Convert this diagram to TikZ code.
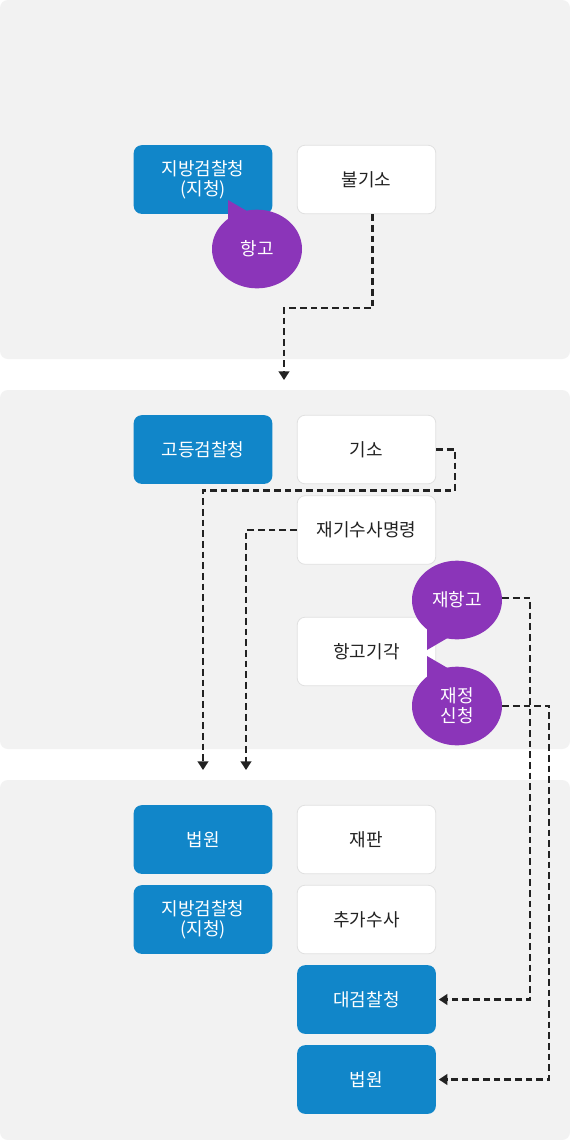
\documentclass[tikz,border=0pt]{standalone}
\usepackage{fontspec}
\setmainfont{Noto Sans CJK KR}
\usetikzlibrary{arrows.meta,shapes.geometric}
\definecolor{panel}{HTML}{F2F2F2}
\definecolor{blu}{HTML}{1186C9}
\definecolor{pur}{HTML}{8B35B9}
\definecolor{bord}{HTML}{E0E0E0}
\definecolor{ink}{HTML}{222222}
\begin{document}
\begin{tikzpicture}[x=0.75pt,y=-0.75pt,
  box/.style={rounded corners=6pt, minimum width=104pt, minimum height=51.5pt, inner sep=0pt, align=center, font=\fontsize{13.5}{15}\selectfont},
  bluebox/.style={box, fill=blu, text=white},
  whitebox/.style={box, fill=white, draw=bord, line width=0.6pt, text=ink},
  bubble/.style={ellipse, fill=pur, text=white, minimum width=67.5pt, minimum height=59pt, inner sep=0pt, align=center, font=\fontsize{13.5}{15}\selectfont},
  tail/.style={fill=pur},
  flow/.style={draw=ink, line width=1.7pt, dash pattern=on 5pt off 3pt, -{Triangle[width=8pt,length=6.5pt]}},
  paneL/.style={fill=panel, rounded corners=6pt}
]
\useasboundingbox (0,0) rectangle (570,1140);
\fill[white] (0,0) rectangle (570,1140);
\fill[paneL] (0,0) rectangle (570,359);
\fill[paneL] (0,390) rectangle (570,749);
\fill[paneL] (0,780) rectangle (570,1140);

% panel 1
\node[bluebox] (jibang1) at (203,179.5) {지방검찰청\\(지청)};
\node[whitebox] (bulgiso) at (366.5,179.5) {불기소};
\fill[tail] (228,200) -- (228,224) -- (252,214) -- cycle;
\node[bubble] (hanggo) at (257,249) {항고};

% panel 2
\node[bluebox] (godeung) at (203,449.5) {고등검찰청};
\node[whitebox] (giso) at (366.5,449.5) {기소};
\node[whitebox] (jaegi) at (366.5,530) {재기수사명령};
\node[whitebox] (gigak) at (366.5,651.5) {항고기각};
\fill[tail] (427,650) -- (427,624) -- (451,636) -- cycle;
\node[bubble] (jaehang) at (457,600) {재항고};
\fill[tail] (427,656) -- (427,686) -- (451,670) -- cycle;
\node[bubble] (jaejeong) at (457,706) {재정\\신청};

% panel 3
\node[bluebox] (beobwon1) at (203,839.5) {법원};
\node[bluebox] (jibang2) at (203,919.5) {지방검찰청\\(지청)};
\node[whitebox] (jaepan) at (366.5,839.5) {재판};
\node[whitebox] (chuga) at (366.5,919.5) {추가수사};
\node[bluebox] (daegeom) at (366.5,999.5) {대검찰청};
\node[bluebox] (beobwon2) at (366.5,1079.5) {법원};

% connectors
\coordinate (e1) at (284,380);
\coordinate (e2) at (203,770);
\coordinate (e3) at (246,770);
\draw[flow] ([xshift=4.5pt]bulgiso.south) -- ++(0,94) -| (e1);
\draw[flow] (giso.east) -- ++(19,0) -- ++(0,41) -| (e2);
\draw[flow] (jaegi.west) -| (e3);
\draw[flow, shorten >=2pt] ([yshift=1.5pt]jaehang.east) -- ++(28,0) |- (daegeom.east);
\draw[flow, shorten >=2pt] (jaejeong.east) -- ++(47,0) |- (beobwon2.east);
\end{tikzpicture}
\end{document}
